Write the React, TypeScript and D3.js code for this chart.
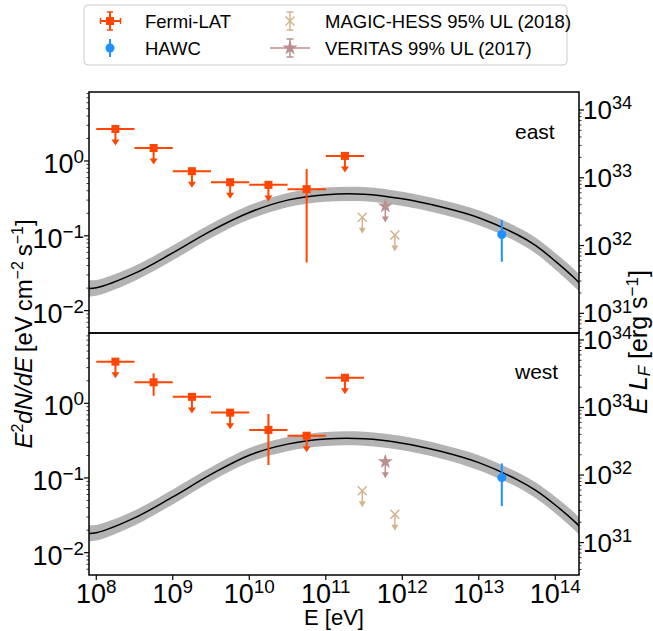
import React from "react";
import * as d3 from "d3";

// ---- data (energies in eV, fluxes in eV cm^-2 s^-1) ----
const fermiE = [1.78e8, 5.62e8, 1.78e9, 5.62e9, 1.78e10, 5.62e10, 1.78e11];
const fermiElo = [1e8, 3.16e8, 1e9, 3.16e9, 1e10, 3.16e10, 1e11];
const fermiEhi = [3.16e8, 1e9, 3.16e9, 1e10, 3.16e10, 1e11, 3.16e11];

const eastFermi = [2.68, 1.49, 0.73, 0.52, 0.48, 0.42, 1.17];
const eastFermiUL = [true, true, true, true, true, false, true];
const eastFermiErrLo = [null, null, null, null, null, 0.044, null];
const eastFermiErrHi = [null, null, null, null, null, 0.78, null];

const westFermi = [3.61, 1.91, 1.22, 0.75, 0.44, 0.368, 2.2];
const westFermiUL = [true, false, true, true, false, true, true];
const westFermiErrLo = [null, 1.26, null, null, 0.149, null, null];
const westFermiErrHi = [null, 2.52, null, null, 0.72, null, null];

const hawcE = [2.0e13];
const eastHawc = [0.104];
const eastHawcLo = [0.045];
const eastHawcHi = [0.163];
const westHawc = [0.101];
const westHawcLo = [0.042];
const westHawcHi = [0.157];

const magicE = [3.0e11, 8.0e11];
const eastMagic = [0.177, 0.1025];
const westMagic = [0.0676, 0.0327];

const veritasE = [6.0e11];
const eastVeritas = [0.25];
const westVeritas = [0.165];

// model curve, log10 E and log10 flux, with band half-width in dex
const modelLogE = [7.85, 8.0, 8.5, 9.0, 9.5, 10.0, 10.5, 11.0, 11.5, 12.0, 12.5, 13.0, 13.5, 13.75, 14.0, 14.25, 14.35];
const eastModelLog = [-1.7, -1.695, -1.503, -1.228, -0.934, -0.688, -0.523, -0.451, -0.444, -0.506, -0.613, -0.758, -0.983, -1.134, -1.339, -1.565, -1.67];
const westModelLog = [-1.74, -1.733, -1.535, -1.254, -0.953, -0.695, -0.547, -0.478, -0.475, -0.534, -0.643, -0.795, -1.021, -1.17, -1.362, -1.581, -1.685];
const bandDex = [0.11, 0.105, 0.1, 0.1, 0.095, 0.095, 0.095, 0.095, 0.095, 0.095, 0.095, 0.1, 0.1, 0.105, 0.11, 0.115, 0.115];

const ulFactor = 0.7;

const FONT = "'Liberation Sans', Arial, sans-serif";
const ORANGE = "#ff4500";
const BLUE = "#1e90ff";
const TAN = "#d2b48c";
const ROSY = "#bc8f8f";
const BAND = "#b3b3b3";

const PL = 89;
const PR = 579;
const xScale = d3.scaleLog().domain([10 ** 7.905, 10 ** 14.31]).range([PL, PR]);

const panels = [
  {
    name: "east", top: 92, bottom: 333, yDom: [10 ** -2.299, 10 ** 0.922], rDom: [10 ** 30.71, 10 ** 34.265],
    fermi: eastFermi, fermiUL: eastFermiUL, fermiLo: eastFermiErrLo, fermiHi: eastFermiErrHi,
    hawc: eastHawc, hawcLo: eastHawcLo, hawcHi: eastHawcHi, magic: eastMagic, veritas: eastVeritas,
    model: eastModelLog, labelY: 139, xAxis: false,
  },
  {
    name: "west", top: 333, bottom: 575, yDom: [10 ** -2.299, 10 ** 0.941], rDom: [10 ** 30.52, 10 ** 34.103],
    fermi: westFermi, fermiUL: westFermiUL, fermiLo: westFermiErrLo, fermiHi: westFermiErrHi,
    hawc: westHawc, hawcLo: westHawcLo, hawcHi: westHawcHi, magic: westMagic, veritas: westVeritas,
    model: westModelLog, labelY: 379, xAxis: true,
  },
];

function logTicks(dom: number[]) {
  const [a, b] = dom;
  const lo = Math.floor(Math.log10(a));
  const hi = Math.ceil(Math.log10(b));
  const major: number[] = [];
  const minor: number[] = [];
  for (let k = lo; k <= hi; k++) {
    const v = Math.pow(10, k);
    if (v >= a && v <= b) major.push(k);
    for (let m = 2; m < 10; m++) {
      const w = m * v;
      if (w >= a && w <= b) minor.push(w);
    }
  }
  return { major, minor };
}

const expStr = (k: number) => (k < 0 ? "\u2212" + Math.abs(k) : String(k));

function Pow({ x, y, k, anchor, size = 27 }: any) {
  return (
    <text x={x} y={y} textAnchor={anchor} fontSize={size} fontFamily={FONT}>
      10<tspan dy={-size * 0.37} fontSize={size * 0.7}>{expStr(k)}</tspan>
    </text>
  );
}

function Arrow({ x, y0, y1, color, lw, hw, hh }: any) {
  return (
    <g>
      <line x1={x} x2={x} y1={y0} y2={y1} stroke={color} strokeWidth={lw} />
      <path d={`M${x - hw},${y1 - 1}L${x + hw},${y1 - 1}L${x},${y1 + hh}Z`} fill={color} />
    </g>
  );
}

function XMark({ x, y, r, color }: any) {
  return (
    <path d={`M${x - r},${y - r}L${x + r},${y + r}M${x - r},${y + r}L${x + r},${y - r}`} stroke={color} strokeWidth={1.5} fill="none" />
  );
}

const star = d3.symbol().type(d3.symbolStar).size(70)();

function Panel({ p }: any) {
  const y = d3.scaleLog().domain(p.yDom).range([p.bottom, p.top]);
  const yR = d3.scaleLog().domain(p.rDom).range([p.bottom, p.top]);
  const lt = logTicks(p.yDom);
  const rt = logTicks(p.rDom);
  const clipId = "clip-" + p.name;

  const pts = modelLogE.map((le, i) => ({
    x: xScale(Math.pow(10, le)),
    m: y(Math.pow(10, p.model[i])),
    lo: y(Math.pow(10, p.model[i] - bandDex[i])),
    hi: y(Math.pow(10, p.model[i] + bandDex[i])),
  }));
  const curve = d3.curveCatmullRom.alpha(0.5);
  const line = d3.line<any>().x((d) => d.x).y((d) => d.m).curve(curve)(pts);
  const area = d3.area<any>().x((d) => d.x).y0((d) => d.lo).y1((d) => d.hi).curve(curve)(pts);

  return (
    <g>
      <defs>
        <clipPath id={clipId}>
          <rect x={PL} y={p.top} width={PR - PL} height={p.bottom - p.top} />
        </clipPath>
      </defs>
      <g clipPath={`url(#${clipId})`}>
        <path d={area || ""} fill={BAND} />
        <path d={line || ""} fill="none" stroke="#000" strokeWidth={1.5} />

        {/* Fermi-LAT */}
        {fermiE.map((e, i) => {
          const cx = xScale(e);
          const cy = y(p.fermi[i]);
          return (
            <g key={"f" + i}>
              <line x1={xScale(fermiElo[i])} x2={xScale(fermiEhi[i])} y1={cy} y2={cy} stroke={ORANGE} strokeWidth={2} />
              {p.fermiUL[i] ? (
                <Arrow x={cx} y0={cy} y1={y(p.fermi[i] * ulFactor)} color={ORANGE} lw={2} hw={4} hh={5} />
              ) : (
                <line x1={cx} x2={cx} y1={y(p.fermiHi[i])} y2={y(p.fermiLo[i])} stroke={ORANGE} strokeWidth={2} />
              )}
              <rect x={cx - 4} y={cy - 4} width={8} height={8} fill={ORANGE} />
            </g>
          );
        })}

        {/* MAGIC-HESS */}
        {magicE.map((e, i) => {
          const cx = xScale(e);
          const cy = y(p.magic[i]);
          return (
            <g key={"m" + i}>
              <Arrow x={cx} y0={cy} y1={y(p.magic[i] * ulFactor)} color={TAN} lw={1.5} hw={3.5} hh={5} />
              <XMark x={cx} y={cy} r={4.5} color={TAN} />
            </g>
          );
        })}

        {/* VERITAS */}
        {veritasE.map((e, i) => {
          const cx = xScale(e);
          const cy = y(p.veritas[i]);
          return (
            <g key={"v" + i}>
              <Arrow x={cx} y0={cy} y1={y(p.veritas[i] * ulFactor)} color={ROSY} lw={1.5} hw={3.5} hh={5} />
              <path d={star || ""} transform={`translate(${cx},${cy})`} fill={ROSY} />
            </g>
          );
        })}

        {/* HAWC */}
        {hawcE.map((e, i) => {
          const cx = xScale(e);
          return (
            <g key={"h" + i}>
              <line x1={cx} x2={cx} y1={y(p.hawcHi[i])} y2={y(p.hawcLo[i])} stroke={BLUE} strokeWidth={2} />
              <circle cx={cx} cy={y(p.hawc[i])} r={4.5} fill={BLUE} />
            </g>
          );
        })}
      </g>

      {/* left axis */}
      {lt.minor.map((v, i) => (
        <line key={"lm" + i} x1={PL - 2.5} x2={PL} y1={y(v)} y2={y(v)} stroke="#000" strokeWidth={0.8} />
      ))}
      {lt.major.map((k) => (
        <g key={"lM" + k}>
          <line x1={PL - 5} x2={PL} y1={y(Math.pow(10, k))} y2={y(Math.pow(10, k))} stroke="#000" strokeWidth={1.2} />
          <Pow x={84} y={y(Math.pow(10, k)) + 12} k={k} anchor="end" />
        </g>
      ))}

      {/* right axis */}
      {rt.minor.map((v, i) => (
        <line key={"rm" + i} x1={PR} x2={PR + 2.5} y1={yR(v)} y2={yR(v)} stroke="#000" strokeWidth={0.8} />
      ))}
      {rt.major.map((k) => (
        <g key={"rM" + k}>
          <line x1={PR} x2={PR + 5} y1={yR(Math.pow(10, k))} y2={yR(Math.pow(10, k))} stroke="#000" strokeWidth={1.2} />
          <Pow x={583} y={yR(Math.pow(10, k)) + 9} k={k} anchor="start" size={26} />
        </g>
      ))}

      {/* x axis */}
      {p.xAxis &&
        [8, 9, 10, 11, 12, 13, 14].map((k) => (
          <g key={"x" + k}>
            <line x1={xScale(Math.pow(10, k))} x2={xScale(Math.pow(10, k))} y1={p.bottom} y2={p.bottom + 5} stroke="#000" strokeWidth={1.2} />
            <Pow x={xScale(Math.pow(10, k))} y={p.bottom + 28} k={k} anchor="middle" />
          </g>
        ))}

      <rect x={PL} y={p.top} width={PR - PL} height={p.bottom - p.top} fill="none" stroke="#000" strokeWidth={1.5} />
      <text x={515} y={p.labelY} fontSize={21} fontFamily={FONT}>{p.name}</text>
    </g>
  );
}

function Legend() {
  const cap = (x1: number, y1: number, x2: number, y2: number, c: string, w = 1.5) => (
    <line x1={x1} y1={y1} x2={x2} y2={y2} stroke={c} strokeWidth={w} />
  );
  return (
    <g fontFamily={FONT} fontSize={18.5}>
      <rect x={84} y={5} width={483} height={60} rx={4} fill="#fff" stroke="#cccccc" strokeWidth={1} />
      {/* Fermi-LAT */}
      {cap(100.5, 21, 120.5, 21, ORANGE, 2)}
      {cap(110, 12, 110, 30, ORANGE, 2)}
      {cap(100.5, 18, 100.5, 24, ORANGE)}
      {cap(120.5, 18, 120.5, 24, ORANGE)}
      {cap(107, 12, 113, 12, ORANGE)}
      {cap(107, 30, 113, 30, ORANGE)}
      <rect x={106} y={17} width={8} height={8} fill={ORANGE} />
      <text x={145} y={27.5}>Fermi-LAT</text>
      {/* HAWC */}
      {cap(110, 39, 110, 57, BLUE, 2)}
      <circle cx={110} cy={48} r={4.5} fill={BLUE} />
      <text x={145} y={55}>HAWC</text>
      {/* MAGIC-HESS */}
      {cap(290, 12, 290, 30, TAN)}
      {cap(286.5, 12, 293.5, 12, TAN)}
      {cap(286.5, 30, 293.5, 30, TAN)}
      <XMark x={290} y={21} r={4.5} color={TAN} />
      <text x={325} y={27.5}>MAGIC-HESS 95% UL (2018)</text>
      {/* VERITAS */}
      {cap(270, 48, 310, 48, ROSY)}
      {cap(290, 39, 290, 57, ROSY)}
      {cap(286.5, 39, 293.5, 39, ROSY)}
      {cap(286.5, 57, 293.5, 57, ROSY)}
      <path d={star || ""} transform="translate(290,48)" fill={ROSY} />
      <text x={325} y={55}>VERITAS 99% UL (2017)</text>
    </g>
  );
}

export default function App() {
  return (
    <svg width={653} height={631} style={{ position: "absolute", left: 0, top: 0, background: "#fff" }}>
      <rect width={653} height={631} fill="#fff" />
      {panels.map((p) => (
        <Panel key={p.name} p={p} />
      ))}
      <Legend />

      <text x={334} y={625} textAnchor="middle" fontSize={22} fontFamily={FONT}>E [eV]</text>

      <text transform="translate(32,334) rotate(-90)" textAnchor="middle" fontSize={24} fontFamily={FONT}>
        <tspan fontStyle="italic">E</tspan>
        <tspan dy={-9} fontSize={16}>2</tspan>
        <tspan dy={9} fontStyle="italic">dN/dE</tspan>
        <tspan>{"\u2009[eV\u2009cm"}</tspan>
        <tspan dy={-9} fontSize={16}>{"\u22122"}</tspan>
        <tspan dy={9}>{"\u2009s"}</tspan>
        <tspan dy={-9} fontSize={16}>{"\u22121"}</tspan>
        <tspan dy={9}>]</tspan>
      </text>

      <text transform="translate(647,342) rotate(-90)" textAnchor="middle" fontSize={25} fontFamily={FONT}>
        <tspan fontStyle="italic">{"E L"}</tspan>
        <tspan dy={3} fontSize={17} fontStyle="italic">F</tspan>
        <tspan dy={-3}>{" [erg s"}</tspan>
        <tspan dy={-9} fontSize={17}>{"\u22121"}</tspan>
        <tspan dy={9}>]</tspan>
      </text>
    </svg>
  );
}
